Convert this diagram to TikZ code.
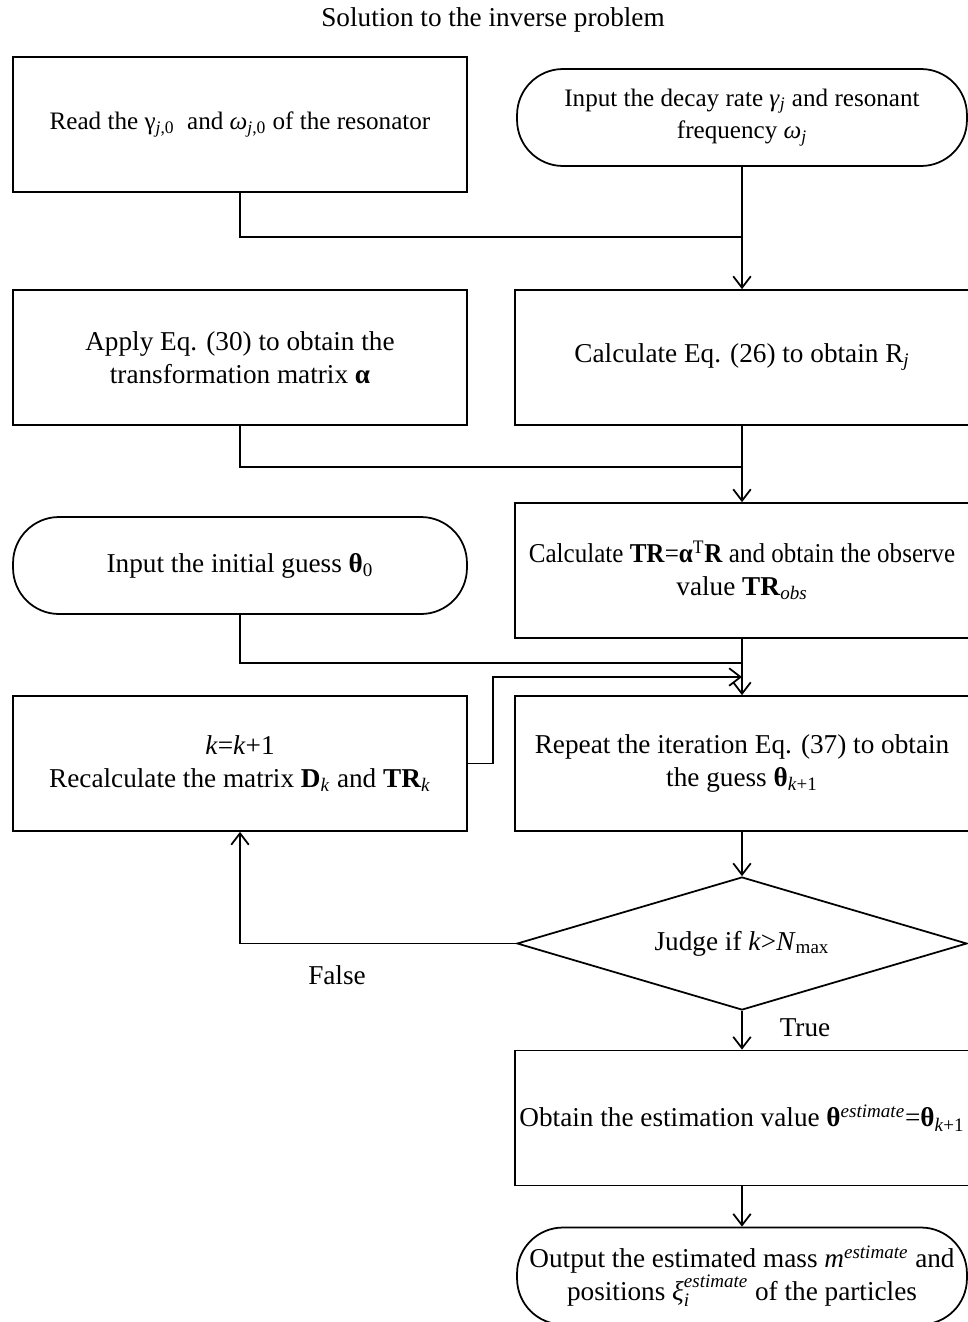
\documentclass[tikz,border=0pt]{standalone}
\usepackage{fontspec}
\usepackage{graphicx}
\setmainfont{Liberation Serif}
\usetikzlibrary{shapes.geometric,arrows.meta}

\tikzset{
  every node/.style={font=\fontsize{15.5}{18.7}\selectfont},
  box/.style={draw, line width=1pt, minimum width=9.08cm, minimum height=2.7cm, align=center, inner sep=2pt},
  inout/.style={box, minimum width=9cm, minimum height=1.94cm, rounded corners=0.92cm},
  judgebox/.style={draw, line width=1pt, diamond, aspect=3.38, minimum width=9cm, minimum height=2.66cm, inner sep=0pt},
  smalltext/.style={font=\fontsize{14.3}{18.7}\selectfont},
  link/.style={draw, line width=1pt},
  arr/.style={link, -{Straight Barb[length=6.5pt,width=10pt]}}
}

\begin{document}
\begin{tikzpicture}[x=0.02cm, y=-0.02cm]
	\useasboundingbox (0,0) rectangle (967,1322);
	
	%%%%% TITLE %%%%%
	\node (title) at (493,20) {Solution to the inverse problem};
	
	%%%%% BOXES %%%%%
	\node[box, smalltext] (read) at (240,124.5) {Read the γ\textsubscript{\textit{j},0}\ \ and \textit{ω}\textsubscript{\textit{j},0} of the resonator};
	\node[inout, smalltext] (inrate) at (742,117.5) {Input the decay rate \textit{γ}\textsubscript{\textit{j}} and resonant\\frequency \textit{ω}\textsubscript{\textit{j}}};
	
	\node[box] (apply) at (240,357.5) {Apply Eq. (30) to obtain the\\transformation matrix \textbf{α}};
	\node[box] (calcr) at (742,357.5) {Calculate Eq. (26) to obtain R\textsubscript{\textit{j}}};
	
	\node[inout, minimum width=9.08cm] (guess) at (240,565.5) {Input the initial guess \textbf{θ}\textsubscript{0}};
	\node[box] (calctr) at (742,570.5) {\scalebox{0.92}[1]{Calculate \textbf{TR}=\textbf{α}\textsuperscript{T}\textbf{R} and obtain the observe}\\value \textbf{TR}\textsubscript{\textit{obs}}};
	
	\node[box] (recalc) at (240,763.5) {\textit{k}=\textit{k}+1\\Recalculate the matrix \textbf{D}\textsubscript{\textit{k}} and \textbf{TR}\textsubscript{\textit{k}}};
	\node[box] (repeat) at (742,763.5) {Repeat the iteration Eq. (37) to obtain\\the guess \textbf{θ}\textsubscript{\textit{k}+1}};
	
	\node[judgebox] (judge) at (742,943.5) {Judge if \textit{k}>\textit{N}\textsubscript{max}};
	\node (false) at (337,975) {False};
	\node (true) at (805,1028) {True};
	
	\node[box] (obtain) at (742,1118) {Obtain the estimation value \textbf{θ}\textsuperscript{\textit{estimate}}=\textbf{θ}\textsubscript{\textit{k}+1}};
	\node[inout] (output) at (742,1276) {Output the estimated mass \textit{m}\textsuperscript{\textit{estimate}} and\\positions \textit{ξ}\rlap{\raisebox{-0.15ex}{\textsubscript{\textit{i}}}}\raisebox{0.3ex}{\textsuperscript{\textit{estimate}}} of the particles};
	
	%%%%% JOINTS %%%%%
	\coordinate (j1) at (742,237);
	\coordinate (j2) at (742,467);
	\coordinate (j3) at (742,663);
	\coordinate (j4) at (742,677);
	
	%%%%% LINKS %%%%%
	\draw[link] (read.south) |- (j1);
	\draw[arr] (inrate.south) -- (calcr.north);
	
	\draw[link] (apply.south) |- (j2);
	\draw[arr] (calcr.south) -- (calctr.north);
	
	\draw[link] (guess.south) |- (j3);
	\draw[arr] (calctr.south) -- (repeat.north);
	\draw[arr] (recalc.east) -- ++(25,0) |- (j4);
	
	\draw[arr] (repeat.south) -- (judge.north);
	\draw[arr] (judge.west) -| (recalc.south);
	\draw[arr] (judge.south) -- (obtain.north);
	\draw[arr] (obtain.south) -- (output.north);
\end{tikzpicture}
\end{document}
